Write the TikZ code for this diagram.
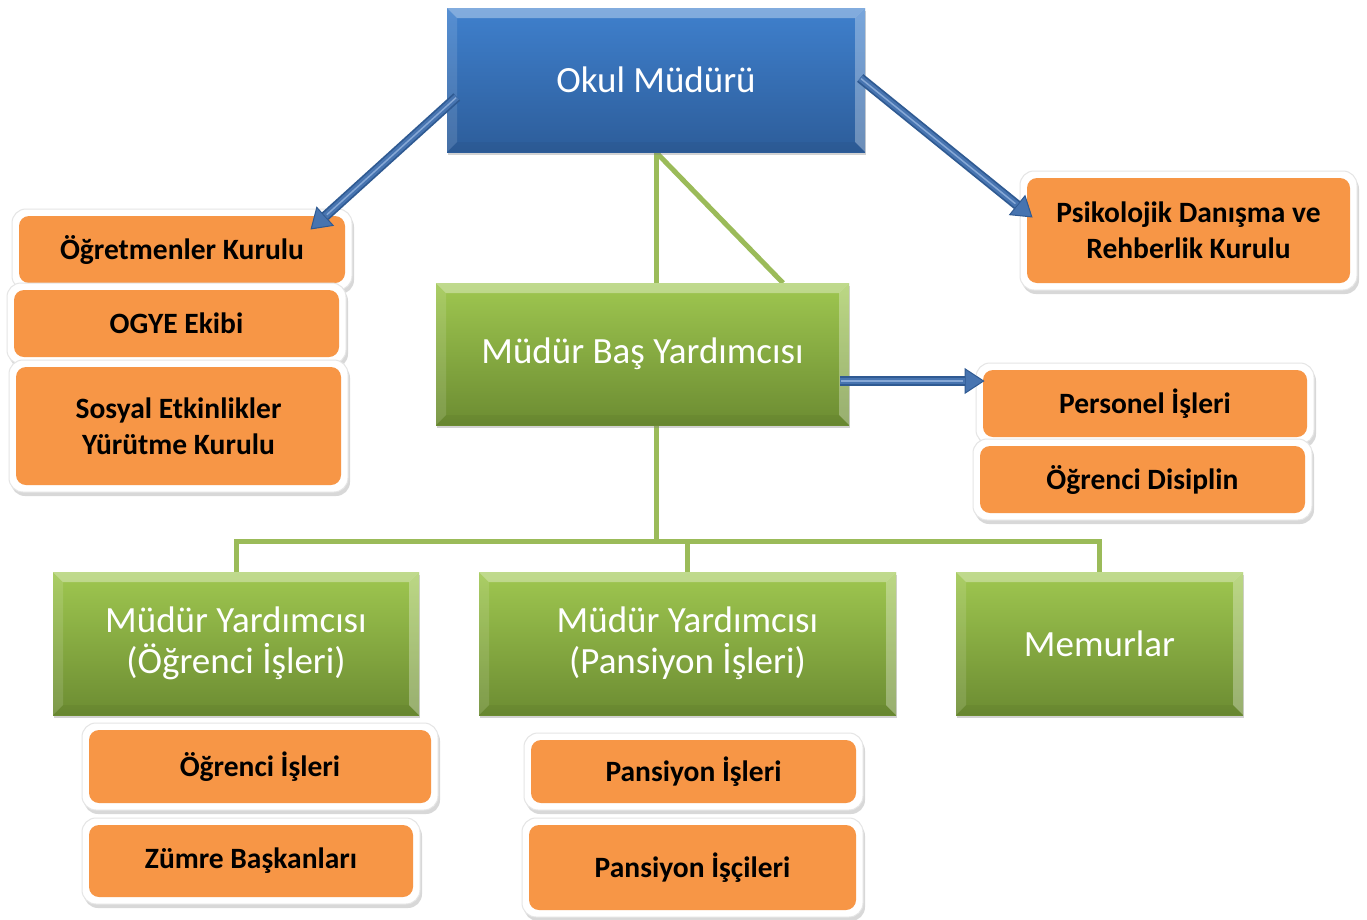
\documentclass[tikz,border=0pt]{standalone}
\usepackage{fontspec}
\setmainfont{Carlito}
\usetikzlibrary{arrows.meta,shadows,calc}
\pgfdeclarelayer{background}
\pgfsetlayers{background,main}
\definecolor{bTop}{HTML}{3F80CD}
\definecolor{bBot}{HTML}{2D5D9A}
\definecolor{gTop}{HTML}{9FC750}
\definecolor{gBot}{HTML}{6C8C32}
\definecolor{orangeC}{HTML}{F79646}
\definecolor{gLine}{HTML}{9BBB59}
\definecolor{aDark}{HTML}{2F5A92}
\definecolor{aMid}{HTML}{4774B0}
\definecolor{aLight}{HTML}{86A8D6}
\newcommand\blueArrow[2]{%
  \draw[line width=10pt, draw=aDark, -{Triangle[width=26pt,length=20pt,line width=1pt,fill=aMid]}] #1 -- #2;
  \draw[line width=6.5pt, draw=aMid, shorten >=20pt] #1 -- #2;
  \draw[line width=1.5pt, draw=aLight, shorten >=22pt, shorten <=1pt] #1 -- #2;
}
\tikzset{
  bevel/.style={path picture={
    \coordinate (nw) at (path picture bounding box.north west);
    \coordinate (ne) at (path picture bounding box.north east);
    \coordinate (sw) at (path picture bounding box.south west);
    \coordinate (se) at (path picture bounding box.south east);
    \fill[white,opacity=0.35] (nw) -- (ne) -- ($(ne)+(-10,10)$) -- ($(nw)+(10,10)$) -- cycle;
    \fill[white,opacity=0.12] (nw) -- ($(nw)+(10,10)$) -- ($(sw)+(10,-10)$) -- (sw) -- cycle;
    \fill[white,opacity=0.3] (ne) -- ($(ne)+(-10,10)$) -- ($(se)+(-10,-10)$) -- (se) -- cycle;
    \fill[black,opacity=0.04] (sw) -- (se) -- ($(se)+(-10,-10)$) -- ($(sw)+(10,-10)$) -- cycle;
  }},
  gbox/.style={rectangle, inner sep=0pt, align=center, text=white,
    font=\fontsize{37}{41}\selectfont,
    drop shadow={opacity=0.35, shadow xshift=1pt, shadow yshift=-3pt},
    bevel},
  greenbox/.style={gbox, top color=gTop, bottom color=gBot},
  bluebox/.style={gbox, top color=bTop, bottom color=bBot},
  obox/.style={rectangle, rounded corners=14pt, fill=white, draw=black!10, line width=1pt,
    inner sep=0pt, align=center,
    font=\bfseries\fontsize{29.5}{36}\selectfont,
    drop shadow={opacity=0.3, shadow xshift=2pt, shadow yshift=-4pt},
    path picture={\fill[orangeC, rounded corners=10pt]
      ($(path picture bounding box.north west)+(7,7)$) rectangle
      ($(path picture bounding box.south east)+(-7,-7)$);}},
  gline/.style={draw=gLine, line width=5pt}
}
\begin{document}
\begin{tikzpicture}[x=1pt,y=-1pt]
\useasboundingbox (0,0) rectangle (1367,919);

% main boxes
\node[bluebox, minimum width=418pt, minimum height=144pt] (okul) at (656,80) {Okul Müdürü};
\node[greenbox, minimum width=413pt, minimum height=142pt] (mby) at (642.5,354) {Müdür Baş Yardımcısı};
\node[greenbox, minimum width=366pt, minimum height=143pt] (my1) at (236,643.5) {Müdür Yardımcısı\\(Öğrenci İşleri)};
\node[greenbox, minimum width=417pt, minimum height=143pt] (my2) at (687.5,643.5) {Müdür Yardımcısı\\(Pansiyon İşleri)};
\node[greenbox, minimum width=287pt, minimum height=143pt] (memur) at (1099.5,643.5) {Memurlar};

% orange boxes
\node[obox, minimum width=340pt, minimum height=81pt] (ogk) at (182,249.5) {Öğretmenler Kurulu};
\node[obox, minimum width=339pt, minimum height=81pt] (ogye) at (176.5,323.5) {OGYE Ekibi};
\node[obox, minimum width=339pt, minimum height=132pt] (sosyal) at (178.5,426) {Sosyal Etkinlikler\\Yürütme Kurulu};
\node[obox, minimum width=337pt, minimum height=119pt] (psi) at (1188.5,230.5) {Psikolojik Danışma ve\\Rehberlik Kurulu};
\node[obox, minimum width=338pt, minimum height=81pt] (pers) at (1145,403.5) {Personel İşleri};
\node[obox, minimum width=339pt, minimum height=81pt] (disiplin) at (1142.5,479.5) {Öğrenci Disiplin};
\node[obox, minimum width=356pt, minimum height=87pt] (ogris) at (260,766.5) {Öğrenci İşleri};
\node[obox, minimum width=338pt, minimum height=86pt] (zumre) at (251,861) {Zümre Başkanları};
\node[obox, minimum width=339pt, minimum height=77pt] (pis) at (693.5,771.5) {Pansiyon İşleri};
\node[obox, minimum width=341pt, minimum height=99pt] (pisc) at (692.5,867.5) {Pansiyon İşçileri};

% green connectors
\coordinate (diag) at (783,283);
\coordinate (bus) at (656,541);
\begin{pgfonlayer}{background}
\fill[white] (0,0) rectangle (1367,919);
\draw[gline] (okul.south) -- (okul.south |- mby.north);
\draw[gline] (okul.south) -- (diag);
\draw[gline] (okul.south |- mby.south) -- (bus);
\draw[gline] (my1.north) |- (bus) -| (memur.north);
\draw[gline] (my2.north) -- (my2.north |- bus);
\end{pgfonlayer}

% blue arrows
\blueArrow{($(okul.west)+(10,17)$)}{($(ogk.north east)+(-42,21)$)}
\blueArrow{($(okul.east)+(-5,-2)$)}{($(psi.north west)+(13,47)$)}
\blueArrow{($(mby.east)+(-9,27)$)}{($(pers.west)+(9,-22.5)$)}
\end{tikzpicture}
\end{document}
